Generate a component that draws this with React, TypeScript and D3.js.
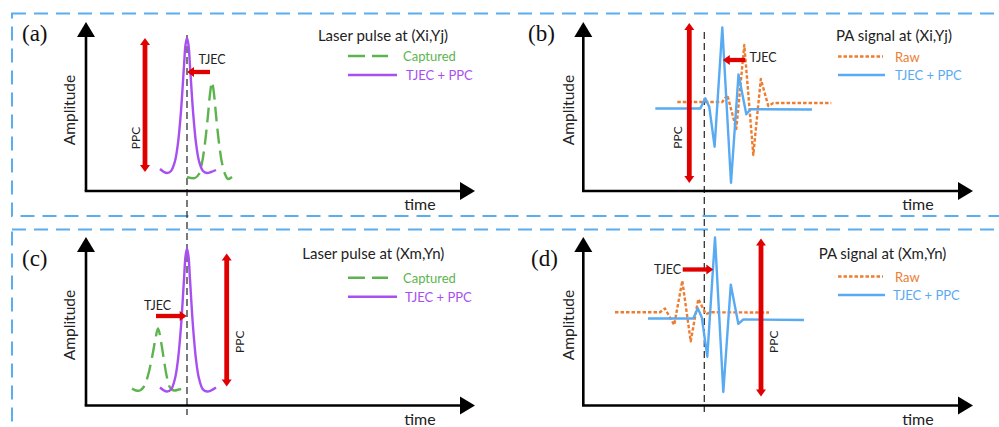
import React from 'react';
import * as d3 from 'd3';

type P = [number, number];

// ---- data: [time, amplitude] (arbitrary units) ----
const laserA_captured: P[] = [
  [101, 14], [105, 13], [109, 13], [113, 17], [116, 28], [119, 48], [122, 76], [124, 97], [126, 109],
  [128, 97], [130, 76], [133, 48], [136, 28], [139, 17], [142, 12], [146, 14],
];
const laserA_corrected: P[] = [
  [74, 22], [78, 19], [81, 18], [85, 20], [89, 30], [92, 48], [95, 80], [98, 125], [99.5, 146], [101, 153],
  [102.5, 146], [104, 125], [107, 80], [110, 48], [113, 30], [117, 20], [121, 18], [125, 19], [130, 21],
];
const laserC_captured: P[] = [
  [46, 17], [50, 15], [54, 15], [58, 19], [62, 30], [66, 48], [69, 64], [72, 77], [75, 64], [78, 45],
  [81, 28], [84, 18], [88, 15], [93, 16], [99, 17],
];
const laserC_corrected: P[] = [
  [74, 18], [78, 15], [81, 14], [85, 16], [89, 27], [92, 46], [95, 79], [98, 126], [99.5, 149], [101, 157],
  [102.5, 149], [104, 126], [107, 79], [110, 46], [113, 27], [117, 16], [121, 14], [125, 15], [130, 18],
];
const paB_raw: P[] = [
  [94, 89], [139, 89], [144, 96], [153, 62], [161, 146], [170, 36], [177.5, 112], [185, 85], [190, 88], [248, 88],
];
const paB_corrected: P[] = [
  [72, 82.5], [117, 82.5], [122, 92.7], [126, 84], [131.3, 44.3], [139, 163.5], [147.7, 8.2], [155.2, 116.5],
  [163, 76.8], [167.3, 81.8], [228.7, 81.5],
];
const paD_raw: P[] = [
  [31.7, 93.2], [76.7, 93.2], [81.7, 97], [90.9, 80.5], [99, 124.7], [107.4, 64.2], [115, 106.5], [122.7, 91.2],
  [126.7, 93.2], [185.7, 93],
];
const paD_corrected: P[] = [
  [64.7, 87], [110, 87], [114.5, 97.2], [118.5, 88], [124, 48.8], [131.7, 168], [140, 13.5], [147.5, 120.8],
  [155, 81.7], [160, 86], [220.7, 85.5],
];

const panelLabels = ['(a)', '(b)', '(c)', '(d)'];
const panelTitles = ['Laser pulse at (Xi,Yj)', 'PA signal at (Xi,Yj)', 'Laser pulse at (Xm,Yn)', 'PA signal at (Xm,Yn)'];
const laserLegend = ['Captured', 'TJEC + PPC'];
const paLegend = ['Raw', 'TJEC + PPC'];
const yAxisLabel = 'Amplitude';
const xAxisLabel = 'time';
const tjecText = 'TJEC';
const ppcText = 'PPC';
// PPC arrows: [time, amplitude from, amplitude to]
const ppcArrows: [number, number, number][] = [[59, 153, 19], [106, 168, 8], [140.7, 152, 19], [177.7, 167, 9]];
// TJEC arrows: [amplitude, time from, time to]
const tjecArrows: [number, number, number][] = [[119, 124, 101], [131, 162, 139.5], [89.5, 70, 100.7], [136, 99.4, 130]];
// reference (dashed) time for each column
const refTimes = [101, 121];

// ---- styles ----
const FONT = 'Lato, "Open Sans", sans-serif';
const C = {
  box: '#5aaef0', red: '#e00000', green: '#5db44f', purple: '#a74ff0', orange: '#ed7d31', blue: '#58aaf2', text: '#222',
};

const layout = [
  { ox: 86, oy: 191, tx: 475, ty: 22, lab: [22, 33], title: [383, 35], leg: [348, 56, 75], legEnd: [388, 397], legText: [403, 406],
    amp: [69, 110], time: [420, 203], tjec: [212, 59], ppc: [135, 138] },
  { ox: 583.3, oy: 191, tx: 973, ty: 22, lab: [528, 33], title: [894, 35], leg: [838, 56.5, 75], legEnd: [883, 885], legText: [895, 895],
    amp: [568.3, 110], time: [918, 203], tjec: [763, 57], ppc: [677.5, 137.5] },
  { ox: 86, oy: 405.5, tx: 475, ty: 237, lab: [22, 258], title: [373.3, 252.7], leg: [348, 277.7, 296.7], legEnd: [388, 397], legText: [403, 405],
    amp: [69, 325], time: [420, 418], tjec: [157.5, 305.7], ppc: [239.3, 341.7] },
  { ox: 583.3, oy: 405.5, tx: 973, ty: 237, lab: [531, 258.3], title: [882.5, 253], leg: [838, 276.5, 295], legEnd: [883, 885], legText: [895, 893],
    amp: [568.3, 325], time: [918, 418.3], tjec: [667.5, 269.3], ppc: [773.3, 341.7] },
];

function arrowPts(tx: number, ty: number, ux: number, uy: number, hl: number, hw: number) {
  const px = -uy, py = ux;
  const bx = tx - ux * hl, by = ty - uy * hl;
  return `${tx},${ty} ${bx + px * hw / 2},${by + py * hw / 2} ${bx - px * hw / 2},${by - py * hw / 2}`;
}

function Arrow({ x1, y1, x2, y2, w, hl, hw, color, double }: any) {
  const dx = x2 - x1, dy = y2 - y1, L = Math.hypot(dx, dy), ux = dx / L, uy = dy / L;
  const sx = double ? x1 + ux * hl * 0.7 : x1;
  const sy = double ? y1 + uy * hl * 0.7 : y1;
  const ex = x2 - ux * hl * 0.7, ey = y2 - uy * hl * 0.7;
  return (
    <g>
      <line x1={sx} y1={sy} x2={ex} y2={ey} stroke={color} strokeWidth={w} />
      <polygon points={arrowPts(x2, y2, ux, uy, hl, hw)} fill={color} />
      {double && <polygon points={arrowPts(x1, y1, -ux, -uy, hl, hw)} fill={color} />}
    </g>
  );
}

const series = [
  { a: laserA_captured, b: laserA_corrected, laser: true },
  { a: paB_raw, b: paB_corrected, laser: false },
  { a: laserC_captured, b: laserC_corrected, laser: true },
  { a: paD_raw, b: paD_corrected, laser: false },
];

export default function App() {
  const scales = layout.map((L) => ({
    x: d3.scaleLinear().domain([0, L.tx - L.ox]).range([L.ox, L.tx]),
    y: d3.scaleLinear().domain([0, L.oy - L.ty]).range([L.oy, L.ty]),
  }));
  const smooth = (s: any) => d3.line<P>().x((d) => s.x(d[0])).y((d) => s.y(d[1])).curve(d3.curveCatmullRom.alpha(0.5));
  const linear = (s: any) => d3.line<P>().x((d) => s.x(d[0])).y((d) => s.y(d[1])).curve(d3.curveLinear);

  return (
    <svg width={999} height={427} style={{ position: 'absolute', left: 0, top: 0, background: '#fff' }} fontFamily={FONT}>
      <rect x={0} y={0} width={999} height={427} fill="#fff" />
      {/* dashed boxes */}
      <rect x={12} y={13.5} width={1010} height={202.5} fill="none" stroke={C.box} strokeWidth={2} strokeDasharray="14,8" />
      <rect x={12} y={229.5} width={1010} height={230} fill="none" stroke={C.box} strokeWidth={2} strokeDasharray="14,8" />

      {/* reference dashed lines spanning both rows */}
      {refTimes.map((t, i) => (
        <line key={i} x1={scales[i].x(t)} x2={scales[i].x(t)} y1={i === 0 ? 35 : 32} y2={i === 0 ? 415 : 412}
          stroke="#333" strokeWidth={1.3} strokeDasharray="7,4" />
      ))}

      {layout.map((L, i) => {
        const s = scales[i];
        const ser = series[i];
        const laser = ser.laser;
        const cA = laser ? C.green : C.orange;
        const cB = laser ? C.purple : C.blue;
        const dashA = laser ? '15,7' : '3.5,2';
        const legendNames = laser ? laserLegend : paLegend;
        const [pt, pa0, pa1] = ppcArrows[i];
        const [ta, tt0, tt1] = tjecArrows[i];
        return (
          <g key={i}>
            {/* axes */}
            <Arrow x1={s.x(0)} y1={s.y(0)} x2={s.x(0)} y2={L.ty} w={2.6} hl={15} hw={18} color="#000" />
            <Arrow x1={s.x(0) - 1.3} y1={s.y(0)} x2={L.tx} y2={s.y(0)} w={2.6} hl={15} hw={18} color="#000" />
            <text x={L.lab[0]} y={L.lab[1]} fontFamily='"Liberation Serif", "Times New Roman", serif' fontSize={23}
              dominantBaseline="central" fill="#111">{panelLabels[i]}</text>
            <text transform={`translate(${L.amp[0]},${L.amp[1]}) rotate(-90)`} textAnchor="middle" dominantBaseline="central"
              fontSize={15.5} fill={C.text}>{yAxisLabel}</text>
            <text x={L.time[0]} y={L.time[1]} textAnchor="middle" dominantBaseline="central" fontSize={16} fill={C.text}>{xAxisLabel}</text>

            {/* curves */}
            <path d={(laser ? smooth(s) : linear(s))(ser.a) || ''} fill="none" stroke={cA} strokeWidth={2.4}
              strokeDasharray={dashA} strokeLinejoin="round" />
            <path d={(laser ? smooth(s) : linear(s))(ser.b) || ''} fill="none" stroke={cB} strokeWidth={2.4} strokeLinejoin="round" />

            {/* annotations */}
            <Arrow x1={s.x(pt)} y1={s.y(pa0)} x2={s.x(pt)} y2={s.y(pa1)} w={4.8} hl={7} hw={10} color={C.red} double />
            <text transform={`translate(${L.ppc[0]},${L.ppc[1]}) rotate(-90)`} textAnchor="middle" dominantBaseline="central"
              fontSize={12} fill={C.text}>{ppcText}</text>
            <Arrow x1={s.x(tt0)} y1={s.y(ta)} x2={s.x(tt1)} y2={s.y(ta)} w={4.3} hl={7} hw={10} color={C.red} />
            <text x={L.tjec[0]} y={L.tjec[1]} textAnchor="middle" dominantBaseline="central" fontSize={12.5} fill={C.text}>{tjecText}</text>

            {/* legend */}
            <text x={L.title[0]} y={L.title[1]} textAnchor="middle" dominantBaseline="central" fontSize={15} fill={C.text}>{panelTitles[i]}</text>
            <line x1={L.leg[0]} x2={L.legEnd[0]} y1={L.leg[1]} y2={L.leg[1]} stroke={cA} strokeWidth={2.4} strokeDasharray={laser ? '17,7' : '3.5,2'} />
            <text x={L.legText[0]} y={L.leg[1]} dominantBaseline="central" fontSize={13} fill={cA}>{legendNames[0]}</text>
            <line x1={L.leg[0]} x2={L.legEnd[1]} y1={L.leg[2]} y2={L.leg[2]} stroke={cB} strokeWidth={2.4} />
            <text x={L.legText[1]} y={L.leg[2]} dominantBaseline="central" fontSize={13} fill={cB}>{legendNames[1]}</text>
          </g>
        );
      })}
    </svg>
  );
}
